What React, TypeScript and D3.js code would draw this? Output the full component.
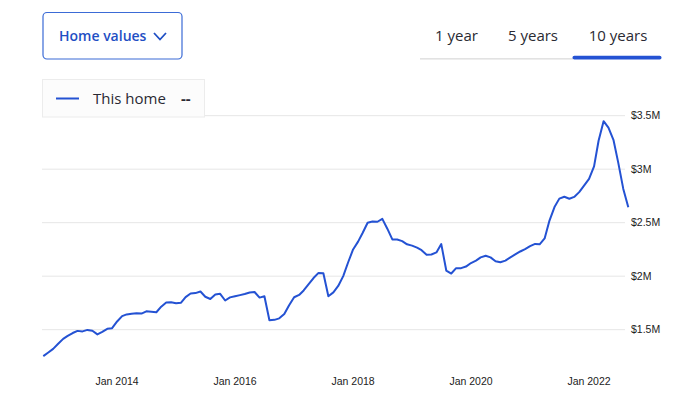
import { useEffect, useRef } from "react";
import * as d3 from "d3";

// monthly home value estimates (thousands of $), Oct 2012 .. Sep 2022
const startMonth = new Date(2012, 9, 1);
const homeValues = [
  1253, 1287, 1321, 1368, 1414, 1442, 1469, 1489, 1484, 1498, 1490, 1456,
  1479, 1508, 1514, 1577, 1627, 1643, 1650, 1653, 1651, 1672, 1668, 1663,
  1715, 1754, 1757, 1748, 1752, 1804, 1838, 1842, 1857, 1808, 1787, 1829,
  1835, 1773, 1802, 1813, 1823, 1833, 1847, 1852, 1800, 1813, 1588, 1592,
  1606, 1647, 1729, 1803, 1825, 1867, 1925, 1983, 2031, 2028, 1813, 1849,
  1909, 2001, 2128, 2250, 2323, 2404, 2500, 2511, 2509, 2536, 2444, 2344,
  2343, 2328, 2298, 2286, 2267, 2243, 2201, 2203, 2222, 2300, 2053, 2025,
  2075, 2075, 2090, 2123, 2146, 2176, 2191, 2176, 2140, 2131, 2146, 2176,
  2203, 2231, 2253, 2281, 2302, 2298, 2353, 2520, 2646, 2725, 2743, 2724,
  2741, 2786, 2846, 2910, 3026, 3266, 3449, 3388, 3275, 3059, 2816, 2644,
];
const yTicks = [1500, 2000, 2500, 3000, 3500];
const yTickLabels = ["$1.5M", "$2M", "$2.5M", "$3M", "$3.5M"];
const xTicks = [2014, 2016, 2018, 2020, 2022];
const tabs = ["1 year", "5 years", "10 years"];

const W = 690;
const H = 418;
const blue = "#2452d3";
const uiFont = "'Open Sans', sans-serif";
const axisFont = "'Liberation Sans', Arial, sans-serif";

export default function App() {
  const ref = useRef<SVGSVGElement | null>(null);

  useEffect(() => {
    if (!ref.current) return;
    const svg = d3.select(ref.current);
    svg.selectAll("*").remove();

    const data = homeValues.map((v, i) => ({ date: d3.timeMonth.offset(startMonth, i), value: v }));

    const x = d3
      .scaleTime()
      .domain([data[0].date, data[data.length - 1].date])
      .range([43.3, 628.3]);
    const y = d3.scaleLinear().domain([1500, 3500]).range([329.7, 115.7]);

    // grid
    const grid = svg.append("g");
    grid
      .selectAll("line")
      .data(yTicks)
      .join("line")
      .attr("x1", 42)
      .attr("x2", 625)
      .attr("y1", (d) => y(d))
      .attr("y2", (d) => y(d))
      .attr("stroke", "#e6e6e6")
      .attr("stroke-width", 1);

    grid
      .selectAll("text")
      .data(yTicks)
      .join("text")
      .attr("x", 631)
      .attr("y", (d) => y(d))
      .attr("dy", "0.35em")
      .attr("font-family", axisFont)
      .attr("font-size", 10.5)
      .attr("fill", "#222")
      .text((_, i) => yTickLabels[i]);

    svg
      .append("g")
      .selectAll("text")
      .data(xTicks)
      .join("text")
      .attr("x", (d) => x(new Date(d, 0, 1)))
      .attr("y", 381.7)
      .attr("dy", "0.35em")
      .attr("text-anchor", "middle")
      .attr("font-family", axisFont)
      .attr("font-size", 10.5)
      .attr("fill", "#222")
      .text((d) => `Jan ${d}`);

    const line = d3
      .line<{ date: Date; value: number }>()
      .x((d) => x(d.date))
      .y((d) => y(d.value));

    svg
      .append("path")
      .datum(data)
      .attr("d", line)
      .attr("fill", "none")
      .attr("stroke", blue)
      .attr("stroke-width", 2)
      .attr("stroke-linejoin", "round");

    // dropdown button
    svg
      .append("rect")
      .attr("x", 43)
      .attr("y", 12.5)
      .attr("width", 139)
      .attr("height", 46.5)
      .attr("rx", 4)
      .attr("fill", "#fff")
      .attr("stroke", "#3b6bd6")
      .attr("stroke-width", 1.2);
    svg
      .append("text")
      .attr("x", 59)
      .attr("y", 36)
      .attr("dy", "0.35em")
      .attr("font-family", uiFont)
      .attr("font-weight", 600)
      .attr("font-size", 14)
      .attr("fill", "#1f4fc4")
      .text("Home values");
    svg
      .append("path")
      .attr("d", "M154,33 L160,39.5 L166,33")
      .attr("fill", "none")
      .attr("stroke", "#1f4fc4")
      .attr("stroke-width", 1.8);

    // tabs
    const tabCenters = [456.5, 533, 618];
    svg
      .append("g")
      .selectAll("text")
      .data(tabs)
      .join("text")
      .attr("x", (_, i) => tabCenters[i])
      .attr("y", 36)
      .attr("dy", "0.35em")
      .attr("text-anchor", "middle")
      .attr("font-family", uiFont)
      .attr("font-size", 15)
      .attr("fill", "#2a2a33")
      .text((d) => d);
    svg
      .append("rect")
      .attr("x", 420)
      .attr("y", 58)
      .attr("width", 153)
      .attr("height", 1.6)
      .attr("fill", "#e2e2e2");
    svg
      .append("rect")
      .attr("x", 572.5)
      .attr("y", 55.8)
      .attr("width", 89)
      .attr("height", 3.8)
      .attr("rx", 1.8)
      .attr("fill", blue);

    // legend
    svg
      .append("rect")
      .attr("x", 42.5)
      .attr("y", 79.5)
      .attr("width", 162)
      .attr("height", 37.5)
      .attr("fill", "#fcfcfc")
      .attr("stroke", "#ececec");
    svg
      .append("line")
      .attr("x1", 56)
      .attr("x2", 79)
      .attr("y1", 98.5)
      .attr("y2", 98.5)
      .attr("stroke", blue)
      .attr("stroke-width", 2);
    svg
      .append("text")
      .attr("x", 93)
      .attr("y", 98.5)
      .attr("dy", "0.35em")
      .attr("font-family", uiFont)
      .attr("font-size", 15)
      .attr("fill", "#2a2a33")
      .text("This home");
    svg
      .append("text")
      .attr("x", 181)
      .attr("y", 98.5)
      .attr("dy", "0.35em")
      .attr("font-family", uiFont)
      .attr("font-weight", 700)
      .attr("font-size", 15)
      .attr("fill", "#2a2a33")
      .text("--");
  }, []);

  return (
    <svg
      ref={ref}
      width={W}
      height={H}
      style={{ position: "absolute", left: 0, top: 0, background: "#fff" }}
    />
  );
}
